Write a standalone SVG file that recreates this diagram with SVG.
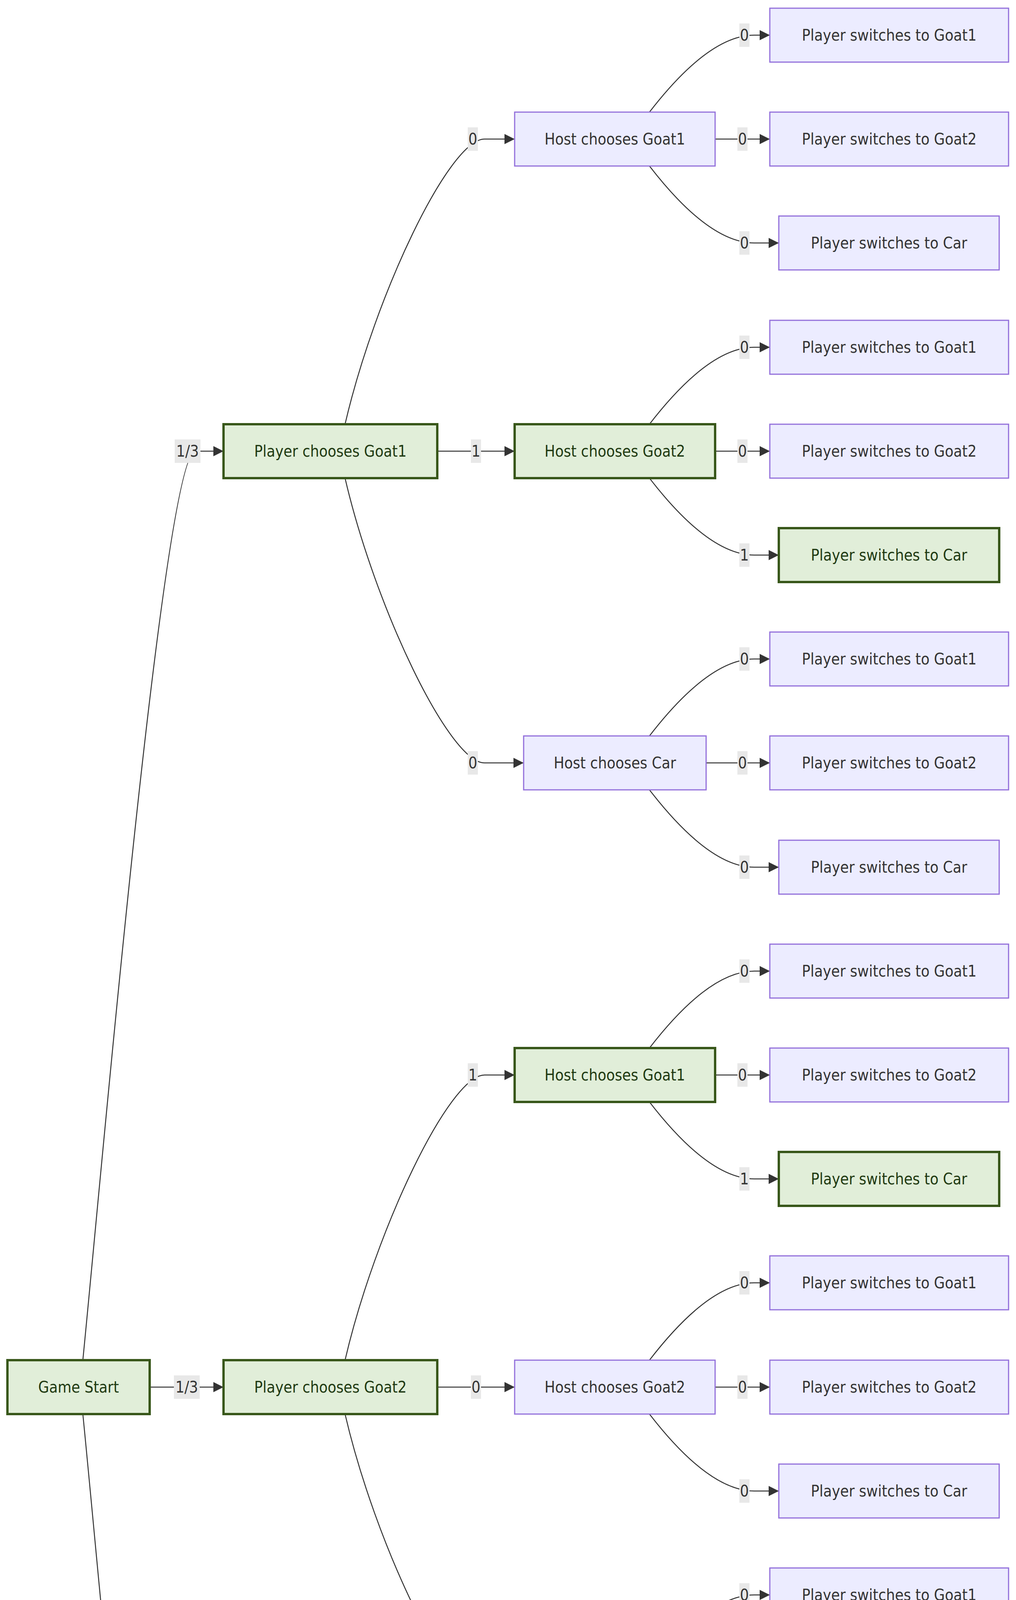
<svg xmlns="http://www.w3.org/2000/svg" width="2600" height="7101" viewBox="0 0 2600 7101">
<style>
.g rect{fill:#e1eed9;stroke:#38571a;stroke-width:6}
.p rect{fill:#ececff;stroke:#9370db;stroke-width:3}
text{font-family:"DejaVu Sans Condensed","DejaVu Sans",sans-serif;font-size:40px;text-anchor:middle;dominant-baseline:central}
.p text{fill:#333}
.g text{fill:#1f3a12}
.e path{fill:none;stroke:#333;stroke-width:2.5;marker-end:url(#ah)}
.l rect{fill:#e8e8e8}
.l text{fill:#333}
</style>
<defs>
<marker id="ah" markerUnits="userSpaceOnUse" markerWidth="26" markerHeight="26" refX="24" refY="12" orient="auto" viewBox="0 0 24 24"><path d="M0,0 L24,12 L0,24 z" fill="#333"/></marker>
</defs>
<rect width="2600" height="7101" fill="#fff"/>
<g id="edges" class="e">
<path d="M212,3482 C260,3000 420,1155 500,1155 L572,1155"/>
<path d="M383,3551 L572,3551"/>
<path d="M212,3620 C260,4100 420,5946 500,5946 L598,5946"/>
<path d="M883,1086 C960,755 1150,356 1240,356 L1317,356"/>
<path d="M1119,1155 L1317,1155"/>
<path d="M883,1224 C960,1555 1150,1953 1240,1953 L1340,1953"/>
<path d="M883,3482 C960,3151 1150,2752 1240,2752 L1317,2752"/>
<path d="M1119,3551 L1317,3551"/>
<path d="M883,3620 C960,3951 1150,4349 1240,4349 L1340,4349"/>
<path d="M883,5877 C960,5546 1150,5148 1240,5148 L1317,5148"/>
<path d="M1093,5946 L1317,5946"/>
<path d="M883,6015 C960,6346 1150,6745 1240,6745 L1340,6745"/>
<path d="M1662,287 C1760,160 1850,90 1930,90 L1970,90"/><path d="M1830,356 L1970,356"/><path d="M1662,425 C1760,552 1850,622 1930,622 L1993,622"/>
<path d="M1662,1086 C1760,959 1850,889 1930,889 L1970,889"/><path d="M1830,1155 L1970,1155"/><path d="M1662,1224 C1760,1351 1850,1421 1930,1421 L1993,1421"/>
<path d="M1662,1884 C1760,1757 1850,1687 1930,1687 L1970,1687"/><path d="M1807,1953 L1970,1953"/><path d="M1662,2022 C1760,2149 1850,2220 1930,2220 L1993,2220"/>
<path d="M1662,2683 C1760,2556 1850,2486 1930,2486 L1970,2486"/><path d="M1830,2752 L1970,2752"/><path d="M1662,2821 C1760,2948 1850,3018 1930,3018 L1993,3018"/>
<path d="M1662,3482 C1760,3355 1850,3284 1930,3284 L1970,3284"/><path d="M1830,3551 L1970,3551"/><path d="M1662,3620 C1760,3747 1850,3817 1930,3817 L1993,3817"/>
<path d="M1662,4280 C1760,4153 1850,4083 1930,4083 L1970,4083"/><path d="M1807,4349 L1970,4349"/><path d="M1662,4418 C1760,4545 1850,4615 1930,4615 L1993,4615"/>
<path d="M1662,5079 C1760,4952 1850,4882 1930,4882 L1970,4882"/><path d="M1830,5148 L1970,5148"/><path d="M1662,5217 C1760,5344 1850,5414 1930,5414 L1993,5414"/>
<path d="M1662,5877 C1760,5750 1850,5680 1930,5680 L1970,5680"/><path d="M1830,5946 L1970,5946"/><path d="M1662,6015 C1760,6142 1850,6213 1930,6213 L1993,6213"/>
<path d="M1662,6676 C1760,6549 1850,6479 1930,6479 L1970,6479"/><path d="M1807,6745 L1970,6745"/><path d="M1662,6814 C1760,6941 1850,7011 1930,7011 L1993,7011"/>
</g>
<g id="labels" class="l">
<g transform="translate(480,1155)"><rect x="-33" y="-30" width="66" height="60"/><text>1/3</text></g>
<g transform="translate(478,3551)"><rect x="-33" y="-30" width="66" height="60"/><text>1/3</text></g>
<g transform="translate(476,5946)"><rect x="-33" y="-30" width="66" height="60"/><text>1/3</text></g>
<g transform="translate(1210,356)"><rect x="-13" y="-30" width="26" height="60"/><text>0</text></g>
<g transform="translate(1218,1155)"><rect x="-13" y="-30" width="26" height="60"/><text>1</text></g>
<g transform="translate(1210,1953)"><rect x="-13" y="-30" width="26" height="60"/><text>0</text></g>
<g transform="translate(1210,2752)"><rect x="-13" y="-30" width="26" height="60"/><text>1</text></g>
<g transform="translate(1218,3551)"><rect x="-13" y="-30" width="26" height="60"/><text>0</text></g>
<g transform="translate(1210,4349)"><rect x="-13" y="-30" width="26" height="60"/><text>0</text></g>
<g transform="translate(1208,5148)"><rect x="-33" y="-30" width="66" height="60"/><text>1/2</text></g>
<g transform="translate(1205,5946)"><rect x="-33" y="-30" width="66" height="60"/><text>1/2</text></g>
<g transform="translate(1210,6745)"><rect x="-13" y="-30" width="26" height="60"/><text>0</text></g>
<g transform="translate(1905,90)"><rect x="-13" y="-30" width="26" height="60"/><text>0</text></g>
<g transform="translate(1900,356)"><rect x="-13" y="-30" width="26" height="60"/><text>0</text></g>
<g transform="translate(1905,622)"><rect x="-13" y="-30" width="26" height="60"/><text>0</text></g>
<g transform="translate(1905,889)"><rect x="-13" y="-30" width="26" height="60"/><text>0</text></g>
<g transform="translate(1900,1155)"><rect x="-13" y="-30" width="26" height="60"/><text>0</text></g>
<g transform="translate(1905,1421)"><rect x="-13" y="-30" width="26" height="60"/><text>1</text></g>
<g transform="translate(1905,1687)"><rect x="-13" y="-30" width="26" height="60"/><text>0</text></g>
<g transform="translate(1900,1953)"><rect x="-13" y="-30" width="26" height="60"/><text>0</text></g>
<g transform="translate(1905,2220)"><rect x="-13" y="-30" width="26" height="60"/><text>0</text></g>
<g transform="translate(1905,2486)"><rect x="-13" y="-30" width="26" height="60"/><text>0</text></g>
<g transform="translate(1900,2752)"><rect x="-13" y="-30" width="26" height="60"/><text>0</text></g>
<g transform="translate(1905,3018)"><rect x="-13" y="-30" width="26" height="60"/><text>1</text></g>
<g transform="translate(1905,3284)"><rect x="-13" y="-30" width="26" height="60"/><text>0</text></g>
<g transform="translate(1900,3551)"><rect x="-13" y="-30" width="26" height="60"/><text>0</text></g>
<g transform="translate(1905,3817)"><rect x="-13" y="-30" width="26" height="60"/><text>0</text></g>
<g transform="translate(1905,4083)"><rect x="-13" y="-30" width="26" height="60"/><text>0</text></g>
<g transform="translate(1900,4349)"><rect x="-13" y="-30" width="26" height="60"/><text>0</text></g>
<g transform="translate(1905,4615)"><rect x="-13" y="-30" width="26" height="60"/><text>0</text></g>
<g transform="translate(1905,4882)"><rect x="-13" y="-30" width="26" height="60"/><text>0</text></g>
<g transform="translate(1900,5148)"><rect x="-13" y="-30" width="26" height="60"/><text>1</text></g>
<g transform="translate(1905,5414)"><rect x="-13" y="-30" width="26" height="60"/><text>0</text></g>
<g transform="translate(1905,5680)"><rect x="-13" y="-30" width="26" height="60"/><text>1</text></g>
<g transform="translate(1900,5946)"><rect x="-13" y="-30" width="26" height="60"/><text>0</text></g>
<g transform="translate(1905,6213)"><rect x="-13" y="-30" width="26" height="60"/><text>0</text></g>
<g transform="translate(1905,6479)"><rect x="-13" y="-30" width="26" height="60"/><text>0</text></g>
<g transform="translate(1900,6745)"><rect x="-13" y="-30" width="26" height="60"/><text>0</text></g>
<g transform="translate(1905,7011)"><rect x="-13" y="-30" width="26" height="60"/><text>0</text></g>
</g>
<g id="start" class="g" transform="translate(201,3551)"><rect x="-182" y="-69" width="364" height="138"/><text>Game Start</text></g>
<g id="pg1" class="g" transform="translate(845.5,1155)"><rect x="-273.5" y="-69" width="547" height="138"/><text>Player chooses Goat1</text></g>
<g id="pg2" class="g" transform="translate(845.5,3551)"><rect x="-273.5" y="-69" width="547" height="138"/><text>Player chooses Goat2</text></g>
<g id="pc" class="g" transform="translate(845.5,5946)"><rect x="-247.5" y="-69" width="495" height="138"/><text>Player chooses Car</text></g>
<g id="h1" class="p" transform="translate(1573.5,356)"><rect x="-256.5" y="-69" width="513" height="138"/><text>Host chooses Goat1</text></g>
<g id="h2" class="g" transform="translate(1573.5,1155)"><rect x="-256.5" y="-69" width="513" height="138"/><text>Host chooses Goat2</text></g>
<g id="h3" class="p" transform="translate(1573.5,1953)"><rect x="-233.5" y="-69" width="467" height="138"/><text>Host chooses Car</text></g>
<g id="h4" class="g" transform="translate(1573.5,2752)"><rect x="-256.5" y="-69" width="513" height="138"/><text>Host chooses Goat1</text></g>
<g id="h5" class="p" transform="translate(1573.5,3551)"><rect x="-256.5" y="-69" width="513" height="138"/><text>Host chooses Goat2</text></g>
<g id="h6" class="p" transform="translate(1573.5,4349)"><rect x="-233.5" y="-69" width="467" height="138"/><text>Host chooses Car</text></g>
<g id="h7" class="g" transform="translate(1573.5,5148)"><rect x="-256.5" y="-69" width="513" height="138"/><text>Host chooses Goat1</text></g>
<g id="h8" class="g" transform="translate(1573.5,5946)"><rect x="-256.5" y="-69" width="513" height="138"/><text>Host chooses Goat2</text></g>
<g id="h9" class="p" transform="translate(1573.5,6745)"><rect x="-233.5" y="-69" width="467" height="138"/><text>Host chooses Car</text></g>
<g id="s1" class="p" transform="translate(2275.5,90)"><rect x="-305.5" y="-69" width="611" height="138"/><text>Player switches to Goat1</text></g>
<g id="s2" class="p" transform="translate(2275.5,356)"><rect x="-305.5" y="-69" width="611" height="138"/><text>Player switches to Goat2</text></g>
<g id="s3" class="p" transform="translate(2275,622)"><rect x="-282" y="-69" width="564" height="138"/><text>Player switches to Car</text></g>
<g id="s4" class="p" transform="translate(2275.5,889)"><rect x="-305.5" y="-69" width="611" height="138"/><text>Player switches to Goat1</text></g>
<g id="s5" class="p" transform="translate(2275.5,1155)"><rect x="-305.5" y="-69" width="611" height="138"/><text>Player switches to Goat2</text></g>
<g id="s6" class="g" transform="translate(2275,1421)"><rect x="-282" y="-69" width="564" height="138"/><text>Player switches to Car</text></g>
<g id="s7" class="p" transform="translate(2275.5,1687)"><rect x="-305.5" y="-69" width="611" height="138"/><text>Player switches to Goat1</text></g>
<g id="s8" class="p" transform="translate(2275.5,1953)"><rect x="-305.5" y="-69" width="611" height="138"/><text>Player switches to Goat2</text></g>
<g id="s9" class="p" transform="translate(2275,2220)"><rect x="-282" y="-69" width="564" height="138"/><text>Player switches to Car</text></g>
<g id="s10" class="p" transform="translate(2275.5,2486)"><rect x="-305.5" y="-69" width="611" height="138"/><text>Player switches to Goat1</text></g>
<g id="s11" class="p" transform="translate(2275.5,2752)"><rect x="-305.5" y="-69" width="611" height="138"/><text>Player switches to Goat2</text></g>
<g id="s12" class="g" transform="translate(2275,3018)"><rect x="-282" y="-69" width="564" height="138"/><text>Player switches to Car</text></g>
<g id="s13" class="p" transform="translate(2275.5,3284)"><rect x="-305.5" y="-69" width="611" height="138"/><text>Player switches to Goat1</text></g>
<g id="s14" class="p" transform="translate(2275.5,3551)"><rect x="-305.5" y="-69" width="611" height="138"/><text>Player switches to Goat2</text></g>
<g id="s15" class="p" transform="translate(2275,3817)"><rect x="-282" y="-69" width="564" height="138"/><text>Player switches to Car</text></g>
<g id="s16" class="p" transform="translate(2275.5,4083)"><rect x="-305.5" y="-69" width="611" height="138"/><text>Player switches to Goat1</text></g>
<g id="s17" class="p" transform="translate(2275.5,4349)"><rect x="-305.5" y="-69" width="611" height="138"/><text>Player switches to Goat2</text></g>
<g id="s18" class="p" transform="translate(2275,4615)"><rect x="-282" y="-69" width="564" height="138"/><text>Player switches to Car</text></g>
<g id="s19" class="p" transform="translate(2275.5,4882)"><rect x="-305.5" y="-69" width="611" height="138"/><text>Player switches to Goat1</text></g>
<g id="s20" class="g" transform="translate(2275.5,5148)"><rect x="-305.5" y="-69" width="611" height="138"/><text>Player switches to Goat2</text></g>
<g id="s21" class="p" transform="translate(2275,5414)"><rect x="-282" y="-69" width="564" height="138"/><text>Player switches to Car</text></g>
<g id="s22" class="g" transform="translate(2275.5,5680)"><rect x="-305.5" y="-69" width="611" height="138"/><text>Player switches to Goat1</text></g>
<g id="s23" class="p" transform="translate(2275.5,5946)"><rect x="-305.5" y="-69" width="611" height="138"/><text>Player switches to Goat2</text></g>
<g id="s24" class="p" transform="translate(2275,6213)"><rect x="-282" y="-69" width="564" height="138"/><text>Player switches to Car</text></g>
<g id="s25" class="p" transform="translate(2275.5,6479)"><rect x="-305.5" y="-69" width="611" height="138"/><text>Player switches to Goat1</text></g>
<g id="s26" class="p" transform="translate(2275.5,6745)"><rect x="-305.5" y="-69" width="611" height="138"/><text>Player switches to Goat2</text></g>
<g id="s27" class="p" transform="translate(2275,7011)"><rect x="-282" y="-69" width="564" height="138"/><text>Player switches to Car</text></g>
</svg>
